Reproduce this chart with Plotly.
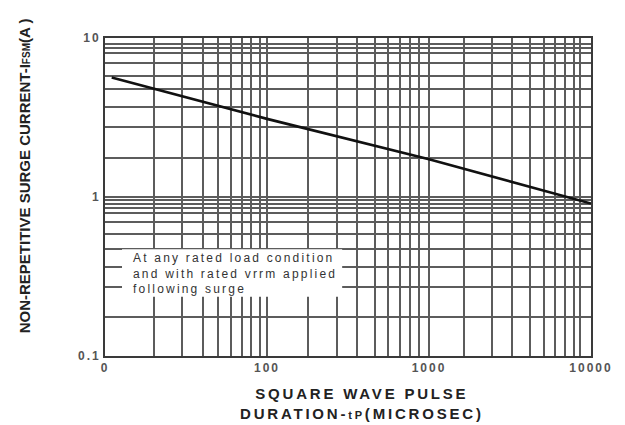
import plotly.graph_objects as go

# ---- data ----
pulse_us = [11, 100, 1000, 10000]          # square wave pulse duration tP (microsec)
surge_a = [5.65, 3.1, 1.73, 0.91]          # non-repetitive surge current IFSM (A)

x_major = [10, 100, 1000, 10000]
x_major_text = ["0", "100", "1000", "10000"]
y_major = [0.1, 1, 10]
y_major_text = ["0.1", "1", "10"]

# grid lines as drawn in the datasheet (not exactly 2..9 per decade)
x_minor = [20, 30, 40, 50, 60, 70, 80, 90,
           180, 272, 357, 461, 557, 660, 768, 864,
           1634, 2461, 3268, 4200, 5140, 5980, 6920, 7800, 8580]
y_minor = [0.176, 0.272, 0.363, 0.471, 0.585, 0.697, 0.793, 0.853, 0.904, 0.957,
           1.76, 2.75, 3.68, 4.78, 5.77, 6.96, 8.05, 8.65, 9.17]

note_lines = ["At any rated load condition",
              "and with rated vrrm applied",
              "following surge"]

FONT = "Liberation Sans, Arial, Helvetica, sans-serif"
GRID = "#5c5c5c"


def spaced(txt, ls):
    return f'<span style="letter-spacing:{ls}px">{txt}</span>'


fig = go.Figure()
fig.add_trace(go.Scatter(
    x=pulse_us, y=surge_a, mode="lines",
    line=dict(color="#111111", width=2.6),
    showlegend=False, hoverinfo="skip"))

axis_common = dict(
    type="log", showgrid=True, gridcolor=GRID, gridwidth=1.6,
    showline=True, linecolor="#3a3a3a", linewidth=1.8, mirror=True,
    ticks="", zeroline=False,
    tickfont=dict(family=FONT, size=12, color="#555555", weight="bold"),
)

fig.update_xaxes(
    **axis_common, range=[1, 4],
    tickmode="array", tickvals=x_major,
    ticktext=[spaced(t, 2) for t in x_major_text],
    minor=dict(tickmode="array", tickvals=x_minor, showgrid=True,
               gridcolor=GRID, gridwidth=1.6, ticks=""),
)
fig.update_yaxes(
    **axis_common, range=[-1, 1],
    tickmode="array", tickvals=y_major,
    ticktext=[spaced(t, 2) for t in y_major_text],
    minor=dict(tickmode="array", tickvals=y_minor, showgrid=True,
               gridcolor=GRID, gridwidth=1.6, ticks=""),
)

# white box behind the note (covers grid)
fig.add_shape(type="rect", xref="paper", yref="paper",
              x0=0.035, x1=0.488, y0=0.186, y1=0.336,
              fillcolor="white", line=dict(width=0), layer="above")

fig.add_annotation(
    text="<br>".join(spaced(t, 2.2) for t in note_lines),
    xref="paper", yref="paper", x=0.053, y=0.261,
    xanchor="left", yanchor="middle", align="left", showarrow=False,
    font=dict(family=FONT, size=12, color="#333333"))

# axis titles
fig.add_annotation(
    text=('NON-REPETITIVE SURGE CURRENT-I'
          '<span style="font-size:10px">FSM</span>(A )'),
    xref="paper", yref="paper", x=-0.166, y=0.566,
    xanchor="center", yanchor="middle", textangle=-90, showarrow=False,
    font=dict(family=FONT, size=15, color="#222222", weight="bold"))

fig.add_annotation(
    text=(spaced("SQUARE WAVE PULSE", 2.8) + "<br>" +
          spaced('DURATION-<span style="font-size:11px">tP</span>(MICROSEC)', 2.8)),
    xref="paper", yref="paper", x=0.529, y=-0.149,
    xanchor="center", yanchor="middle", align="center", showarrow=False,
    font=dict(family=FONT, size=15, color="#222222", weight="bold"))

fig.update_layout(
    width=625, height=425,
    margin=dict(l=105, r=32, t=38, b=69),
    paper_bgcolor="white", plot_bgcolor="white",
    font=dict(family=FONT),
)

fig.write_html("out.html")
